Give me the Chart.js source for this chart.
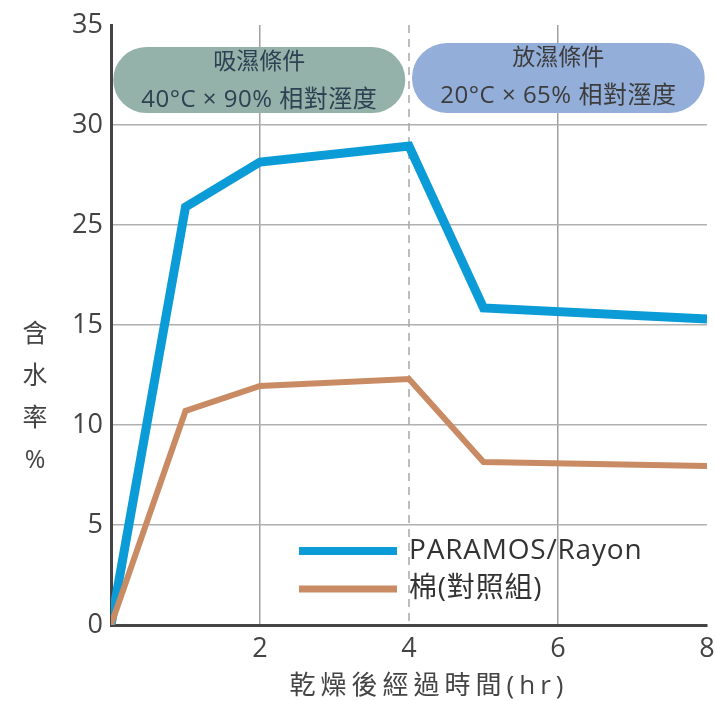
<!DOCTYPE html>
<html>
<head>
<meta charset="utf-8">
<script src="https://cdn.jsdelivr.net/npm/chart.js@4/dist/chart.umd.min.js"></script>
<style>
  html, body { margin: 0; padding: 0; background: #fff; }
  #wrap { width: 715px; height: 701px; }
</style>
</head>
<body>
<div id="wrap"><canvas id="moistureChart" width="715" height="701"></canvas></div>
<script>
// Hours after drying
const hours = [0, 1, 2, 4, 5, 8];
// Moisture content (in the chart's own axis units)
const paramosValues = [0, 20.9, 23.15, 23.95, 15.85, 15.3];
const cottonValues = [0, 10.7, 11.95, 12.3, 8.15, 7.95];
// Tick labels exactly as printed on the y axis
const yTickLabels = ['0', '5', '10', '15', '25', '30', '35'];
const xTickLabels = ['', '2', '4', '6', '8'];
const seriesNames = ['PARAMOS/Rayon', '棉(對照組)'];
const phaseTitles = ['吸濕條件', '放濕條件'];
const phaseConditions = ['40°C × 90% 相對溼度', '20°C × 65% 相對溼度'];

const BLUE = '#0b9bd7';
const BROWN = '#c98b63';
const FONT = '"Open Sans", "Noto Sans CJK TC", sans-serif';

const toPoints = (vals) => hours.map((h, i) => ({ x: h, y: vals[i] }));

// Draws the two condition boxes, dashed divider, legend and axis titles
const decorations = {
  id: 'decorations',
  beforeDatasetsDraw(chart) {
    const { ctx, scales: { x }, chartArea } = chart;
    ctx.save();
    // dashed line separating the phases
    const xd = x.getPixelForValue(4);
    ctx.strokeStyle = '#a8a8a8';
    ctx.lineWidth = 1.5;
    ctx.setLineDash([8, 6]);
    ctx.beginPath();
    ctx.moveTo(xd, chartArea.top);
    ctx.lineTo(xd, chartArea.bottom);
    ctx.stroke();
    ctx.setLineDash([]);

    // pill shaped boxes
    const boxes = [
      { x0: 0.03, x1: 3.95, top: 47, bottom: 113, fill: '#94b2aa', text: '#2e4152' },
      { x0: 4.04, x1: 7.97, top: 43, bottom: 113, fill: '#93aed9', text: '#3c3c3c' },
    ];
    boxes.forEach((b, i) => {
      const l = x.getPixelForValue(b.x0);
      const r = x.getPixelForValue(b.x1);
      const h = b.bottom - b.top;
      ctx.fillStyle = b.fill;
      ctx.beginPath();
      ctx.roundRect(l, b.top, r - l, h, h / 2);
      ctx.fill();
      ctx.fillStyle = b.text;
      ctx.textAlign = 'center';
      ctx.textBaseline = 'middle';
      ctx.font = '23px ' + FONT;
      ctx.fillText(phaseTitles[i], (l + r) / 2, b.top + 15);
      ctx.font = '24px ' + FONT;
      ctx.letterSpacing = '0.5px';
      ctx.fillText(phaseConditions[i], (l + r) / 2, b.top + 53);
      ctx.letterSpacing = '0px';
    });
    ctx.restore();
  },
  afterDraw(chart) {
    const { ctx } = chart;
    ctx.save();
    // legend
    const colors = [BLUE, BROWN];
    const widths = [8, 7];
    const rows = [551, 589];
    seriesNames.forEach((name, i) => {
      ctx.strokeStyle = colors[i];
      ctx.lineWidth = widths[i];
      ctx.beginPath();
      ctx.moveTo(299, rows[i]);
      ctx.lineTo(397, rows[i]);
      ctx.stroke();
      ctx.fillStyle = '#333';
      ctx.font = '28px ' + FONT;
      ctx.letterSpacing = '0.8px';
      ctx.textAlign = 'left';
      ctx.textBaseline = 'middle';
      ctx.fillText(name, 409, rows[i]);
    });
    ctx.letterSpacing = '0px';

    // y title: stacked characters
    ctx.fillStyle = '#444';
    ctx.font = '25px ' + FONT;
    ctx.textAlign = 'center';
    ['含', '水', '率', '%'].forEach((c, i) => {
      ctx.fillText(c, 35, 335 + i * 42);
    });

    // x title
    ctx.font = '26px ' + FONT;
    ctx.letterSpacing = '5px';
    ctx.textAlign = 'center';
    ctx.fillText('乾燥後經過時間(hr)', 429, 687);
    ctx.restore();
  },
};

new Chart(document.getElementById('moistureChart'), {
  type: 'line',
  data: {
    datasets: [
      {
        label: seriesNames[0],
        data: toPoints(paramosValues),
        borderColor: BLUE,
        borderWidth: 9,
        borderJoinStyle: 'miter',
        pointRadius: 0,
        order: 2,
      },
      {
        label: seriesNames[1],
        data: toPoints(cottonValues),
        borderColor: BROWN,
        borderWidth: 6,
        borderJoinStyle: 'miter',
        pointRadius: 0,
        order: 1,
      },
    ],
  },
  options: {
    responsive: false,
    animation: false,
    events: [],
    layout: { padding: { top: 25, right: 8, left: 0, bottom: 0 } },
    plugins: { legend: { display: false }, tooltip: { enabled: false } },
    scales: {
      x: {
        type: 'linear',
        min: 0,
        max: 8,
        afterFit: (s) => {
          s.height = 76;
          // let the last label hang into the outer padding
          s.paddingRight = 0;
          s.paddingLeft = 0;
        },
        ticks: {
          stepSize: 2,
          padding: 8,
          color: '#444',
          font: { size: 27, family: FONT },
          callback: (v, i) => xTickLabels[i],
        },
        grid: {
          drawTicks: false,
          lineWidth: 1.5,
          color: (c) => (c.tick && (c.tick.value === 2 || c.tick.value === 6) ? '#a0a0a0' : 'rgba(0,0,0,0)'),
        },
        border: { color: '#444', width: 3 },
      },
      y: {
        min: 0,
        max: 30,
        afterFit: (s) => {
          s.width = 111;
          s.paddingTop = 0;
          s.paddingBottom = 0;
        },
        ticks: {
          stepSize: 5,
          padding: 8,
          color: '#444',
          font: { size: 27, family: FONT },
          callback: (v, i) => yTickLabels[i],
        },
        grid: {
          drawTicks: false,
          lineWidth: 1.5,
          color: (c) => (c.tick && c.tick.value > 0 && c.tick.value < 30 ? '#b0b0b0' : 'rgba(0,0,0,0)'),
        },
        border: { color: '#444', width: 3 },
      },
    },
  },
  plugins: [decorations],
});
</script>
</body>
</html>
